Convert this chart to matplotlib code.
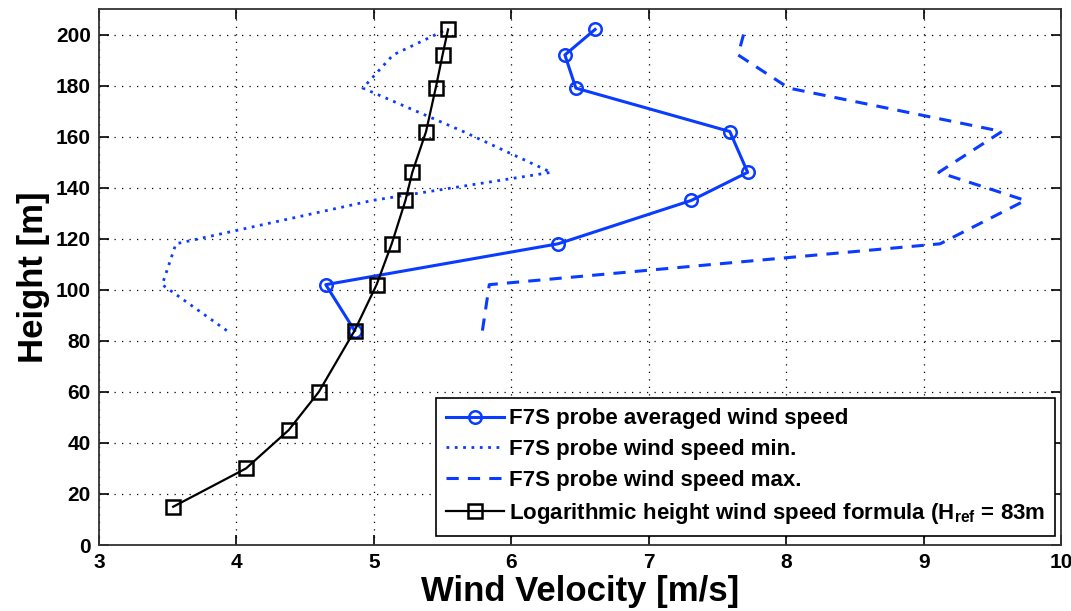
import matplotlib
matplotlib.use("Agg")
import matplotlib.pyplot as plt

# heights [m]
h_probe = [84, 102, 118, 135, 146, 162, 179, 192, 202]
h_log = [15, 30, 45, 60, 84, 102, 118, 135, 146, 162, 179, 192, 202]

# wind speeds [m/s]
v_avg = [4.86, 4.65, 6.34, 7.31, 7.72, 7.59, 6.47, 6.39, 6.61]
v_min = [3.93, 3.46, 3.56, 4.99, 6.29, 5.65, 4.92, 5.14, 5.53]
v_max = [5.79, 5.84, 9.12, 9.74, 9.11, 9.57, 8.02, 7.65, 7.70]
v_log = [3.54, 4.07, 4.38, 4.60, 4.86, 5.02, 5.13, 5.23, 5.28, 5.38, 5.45, 5.50, 5.54]

labels = [
    "F7S probe averaged wind speed",
    "F7S probe wind speed min.",
    "F7S probe wind speed max.",
    r"Logarithmic height wind speed formula (H$_{\rm ref}$ = 83m",
]

plt.rcParams["font.family"] = ["Liberation Sans", "DejaVu Sans"]
plt.rcParams["mathtext.fontset"] = "custom"
plt.rcParams["mathtext.rm"] = "Liberation Sans:bold"
plt.rcParams["mathtext.it"] = "Liberation Sans:bold"
plt.rcParams["mathtext.bf"] = "Liberation Sans:bold"

blue = "#0a3cff"

fig = plt.figure(figsize=(10.71, 6.11), dpi=100)
ax = fig.add_axes([0.0924, 0.108, 0.8983, 0.8773])

ax.plot(v_avg, h_probe, "-o", color=blue, lw=2.2, ms=9, mfc="none", mew=1.8, label=labels[0])
ax.plot(v_min, h_probe, linestyle=(0, (1, 2)), color=blue, lw=2.0, label=labels[1])
ax.plot(v_max, h_probe, linestyle=(0, (4, 3)), color=blue, lw=2.2, label=labels[2])
ax.plot(v_log, h_log, "-s", color="black", lw=1.6, ms=10, mfc="none", mew=1.8, label=labels[3])

ax.set_xlim(3, 10)
ax.set_ylim(0, 210)
ax.set_yticks(range(0, 201, 20))
ax.grid(True, color="black", linestyle=(0, (1, 5)), lw=0.9)
ax.tick_params(direction="in", top=True, right=True, length=7, width=1.2,
               labelsize=15, pad=6)
for t in ax.get_xticklabels() + ax.get_yticklabels():
    t.set_fontweight("bold")
for s in ax.spines.values():
    s.set_linewidth(1.3)
    s.set_color("#333333")

ax.set_xlabel("Wind Velocity [m/s]", fontsize=25, fontweight="bold", labelpad=2)
ax.set_ylabel("Height [m]", fontsize=25, fontweight="bold", labelpad=4)

leg = ax.legend(loc="lower right", bbox_to_anchor=(0.9938, 0.0174),
                prop={"size": 16, "weight": "bold"}, frameon=True, fancybox=False,
                edgecolor="black", framealpha=1, borderaxespad=0,
                handlelength=2.6, handletextpad=0.22, labelspacing=0.44,
                borderpad=0.45)
leg.get_frame().set_linewidth(1.2)

fig.savefig("out.png", dpi=100)
plt.close(fig)
